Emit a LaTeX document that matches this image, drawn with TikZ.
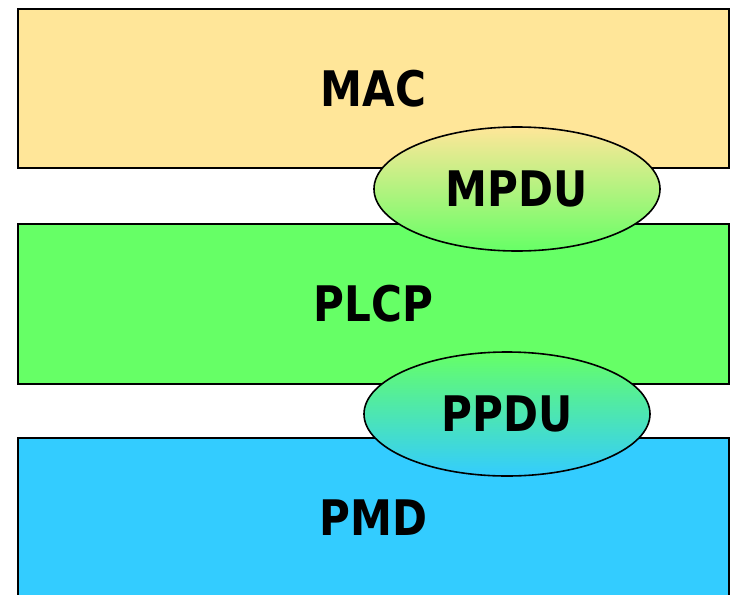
\documentclass[tikz,border=0pt]{standalone}
\usepackage{fontspec}
\newfontfamily\labelfont[FakeStretch=0.86]{DejaVu Sans}
\usetikzlibrary{shapes.geometric}
\definecolor{macc}{HTML}{FFE699}
\definecolor{plcpc}{HTML}{66FF66}
\definecolor{pmdc}{HTML}{33CCFF}
\tikzset{
  layer/.style={draw=black, line width=2pt, minimum width=711pt, inner sep=0pt,
    font=\labelfont\fontsize{49}{55}\selectfont\bfseries},
  pdu/.style={ellipse, draw=black, line width=1.6pt, minimum width=286pt, minimum height=124pt,
    inner sep=0pt, font=\labelfont\fontsize{49}{55}\selectfont\bfseries},
}
\begin{document}
\begin{tikzpicture}[x=1pt,y=-1pt]
\useasboundingbox (0,0) rectangle (730,594);
\clip (0,0) rectangle (730,594);
\fill[white] (0,0) rectangle (730,594);
\node[layer, fill=macc, minimum height=158pt] (mac) at (373.5,88.5) {MAC};
\node[layer, fill=plcpc, minimum height=160pt] (plcp) at (373.5,303.5) {PLCP};
\node[layer, fill=pmdc, minimum height=160pt] (pmd) at (373.5,517.5) {PMD};
\node[pdu, top color=macc, bottom color=plcpc] (mpdu) at (517,189) {MPDU};
\node[pdu, top color=plcpc, bottom color=pmdc] (ppdu) at (507,414) {PPDU};
\end{tikzpicture}
\end{document}
